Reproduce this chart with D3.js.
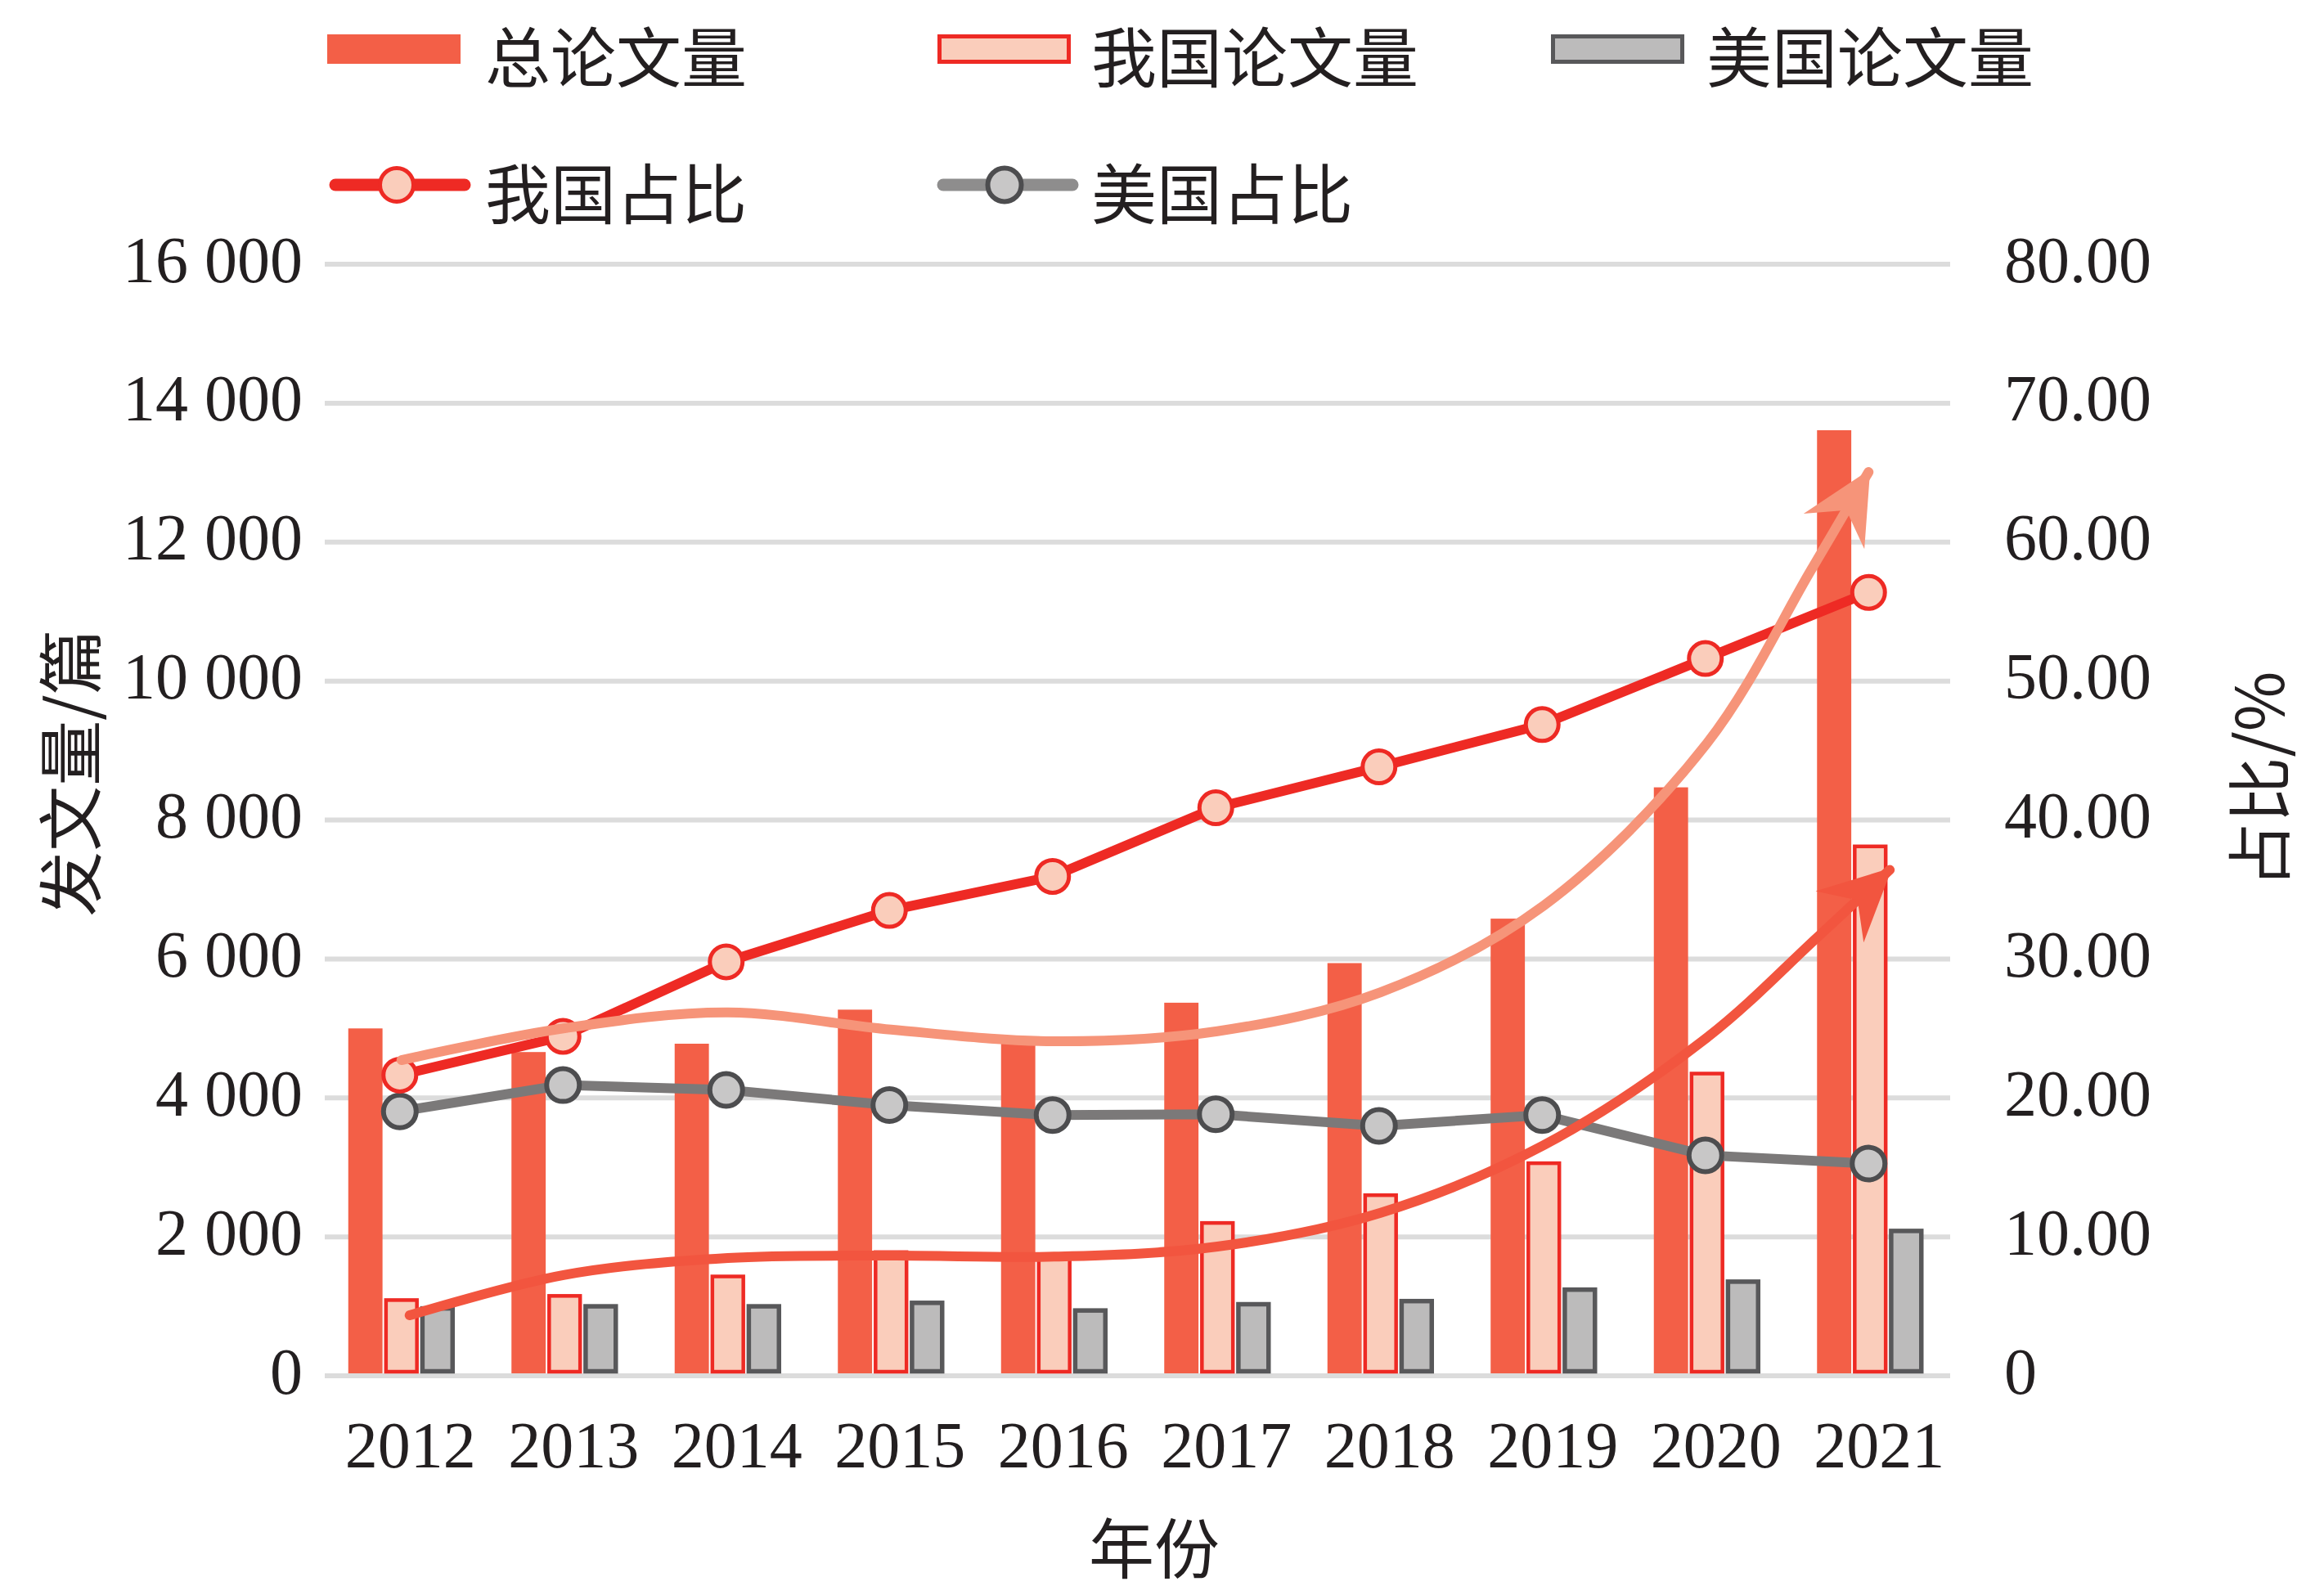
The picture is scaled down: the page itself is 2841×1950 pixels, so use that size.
<!DOCTYPE html>
<html>
<head>
<meta charset="utf-8">
<script src="https://cdn.jsdelivr.net/npm/d3@7"></script>
<style>
  html, body { margin: 0; padding: 0; background: #fff; }
  svg text { fill: #231F20; }
</style>
</head>
<body>
<svg id="chart"></svg>
<script>
var width = 2841
var height = 1950

// data
var years = [2012, 2013, 2014, 2015, 2016, 2017, 2018, 2019, 2020, 2021]
var totalPapers = [5000, 4660, 4780, 5270, 4820, 5370, 5940, 6580, 8470, 13610]
var chinaPapers = [1090, 1150, 1430, 1780, 1730, 2200, 2600, 3060, 4350, 7620]
var usPapers = [970, 1000, 1000, 1050, 940, 1030, 1075, 1240, 1355, 2085]
var chinaShare = [21.64, 24.43, 29.79, 33.49, 35.94, 40.88, 43.82, 46.87, 51.62, 56.38]
var usShare = [19.03, 20.92, 20.58, 19.48, 18.76, 18.82, 17.99, 18.76, 15.87, 15.27]
var leftTicks = [0, 2000, 4000, 6000, 8000, 10000, 12000, 14000, 16000]
var rightTicks = [0, 10, 20, 30, 40, 50, 60, 70, 80]
// hand-drawn trend arrows: [year index, papers]
var trendTotal = [[0, 4544], [1, 5003], [2, 5229], [3, 4982], [4, 4815], [5, 4960], [6, 5521], [7, 6769], [8, 9105], [8.64, 11607], [8.99, 13008]]
var trendChina = [[0.05, 871], [1, 1453], [2, 1695], [3, 1730], [4, 1715], [5, 1860], [6, 2346], [7, 3320], [8, 4869], [8.675, 6310], [9.12, 7282]]

var cnFont = "'Noto Sans CJK SC', sans-serif"
var numFont = "'Liberation Serif', 'Times New Roman', serif"

var svg = d3.select("#chart")
  .attr("width", width)
  .attr("height", height)

var x = d3.scaleBand().domain(years).range([391, 2386])
var center = function(yr) { return x(yr) + x.bandwidth() / 2 }
var sub = d3.scaleBand().domain(["total", "china", "us"]).range([-65, 65]).paddingInner(0.05)
var xIdx = d3.scaleLinear().domain([0, 9]).range([center(2012), center(2021)])
var yLeft = d3.scaleLinear().domain([0, 16000]).range([1682, 323])
var yRight = d3.scaleLinear().domain([0, 80]).range([1682, 323])

// gridlines
svg.append("g").selectAll("line")
  .data(leftTicks)
  .enter().append("line")
  .attr("x1", 397).attr("x2", 2384)
  .attr("y1", function(d) { return yLeft(d) })
  .attr("y2", function(d) { return yLeft(d) })
  .attr("stroke", "#DCDCDC")
  .attr("stroke-width", 6)

// left axis
var leftAxis = d3.axisLeft(yLeft)
  .tickValues(leftTicks)
  .tickSize(0)
  .tickPadding(0)
  .tickFormat(function(d) { return d3.format(",")(d).replace(",", " ") })
var gl = svg.append("g").attr("transform", "translate(370,0)").call(leftAxis)
gl.select(".domain").remove()
gl.selectAll("text")
  .attr("font-family", numFont).attr("font-size", 80)
  .attr("dy", -6).attr("dominant-baseline", "central")
  .style("fill", "#231F20")

// right axis
var rightAxis = d3.axisRight(yRight)
  .tickValues(rightTicks)
  .tickSize(0)
  .tickPadding(0)
  .tickFormat(function(d) { return d === 0 ? "0" : d.toFixed(2) })
var gr = svg.append("g").attr("transform", "translate(2450,0)").call(rightAxis)
gr.select(".domain").remove()
gr.selectAll("text")
  .attr("font-family", numFont).attr("font-size", 80)
  .attr("dy", -6).attr("dominant-baseline", "central")
  .style("fill", "#231F20")

// bottom axis
var bottomAxis = d3.axisBottom(x).tickSize(0).tickPadding(0)
var gb = svg.append("g").attr("transform", "translate(11,0)").call(bottomAxis)
gb.select(".domain").remove()
gb.selectAll("text")
  .attr("font-family", numFont).attr("font-size", 80)
  .attr("y", 1794).attr("dy", null)
  .style("fill", "#231F20")

// axis titles
svg.append("text")
  .attr("x", 1411).attr("y", 1888)
  .attr("text-anchor", "middle").attr("dominant-baseline", "central")
  .attr("font-family", cnFont).attr("font-size", 80)
  .text("年份")
svg.append("text")
  .attr("transform", "translate(81,945) rotate(-90)")
  .attr("text-anchor", "middle").attr("dominant-baseline", "central")
  .attr("font-family", cnFont).attr("font-size", 80)
  .text("发文量/篇")
svg.append("text")
  .attr("transform", "translate(2757,953) rotate(-90)")
  .attr("text-anchor", "middle").attr("dominant-baseline", "central")
  .attr("font-family", cnFont).attr("font-size", 80)
  .text("占比/%")

// bars
var bars = svg.append("g")
bars.selectAll("rect.total")
  .data(totalPapers)
  .enter().append("rect")
  .attr("class", "total")
  .attr("x", function(d, i) { return center(years[i]) + sub("total") })
  .attr("width", sub.bandwidth())
  .attr("y", function(d) { return yLeft(d) })
  .attr("height", function(d) { return yLeft(0) - yLeft(d) - 3 })
  .attr("fill", "#F35F47")

bars.selectAll("rect.china")
  .data(chinaPapers)
  .enter().append("rect")
  .attr("class", "china")
  .attr("x", function(d, i) { return center(years[i]) + sub("china") + 2 })
  .attr("width", sub.bandwidth() - 4)
  .attr("y", function(d) { return yLeft(d) })
  .attr("height", function(d) { return yLeft(0) - yLeft(d) - 5 })
  .attr("fill", "#FACDBB")
  .attr("stroke", "#EE2A24")
  .attr("stroke-width", 4.5)

bars.selectAll("rect.us")
  .data(usPapers)
  .enter().append("rect")
  .attr("class", "us")
  .attr("x", function(d, i) { return center(years[i]) + sub("us") + 2.5 })
  .attr("width", sub.bandwidth() - 5)
  .attr("y", function(d) { return yLeft(d) })
  .attr("height", function(d) { return yLeft(0) - yLeft(d) - 5.5 })
  .attr("fill", "#BCBBBB")
  .attr("stroke", "#58585A")
  .attr("stroke-width", 5.5)

// share lines
var shareLine = d3.line()
  .x(function(d, i) { return center(years[i]) - 2 })
  .y(function(d) { return yRight(d) })

svg.append("path")
  .datum(usShare)
  .attr("d", shareLine)
  .attr("fill", "none")
  .attr("stroke", "#7B7979")
  .attr("stroke-width", 12)
svg.append("g").selectAll("circle")
  .data(usShare)
  .enter().append("circle")
  .attr("cx", function(d, i) { return center(years[i]) - 2 })
  .attr("cy", function(d) { return yRight(d) })
  .attr("r", 20)
  .attr("fill", "#C8C7C7")
  .attr("stroke", "#4D4D4F")
  .attr("stroke-width", 6)

svg.append("path")
  .datum(chinaShare)
  .attr("d", shareLine)
  .attr("fill", "none")
  .attr("stroke", "#EE2A24")
  .attr("stroke-width", 12)
svg.append("g").selectAll("circle")
  .data(chinaShare)
  .enter().append("circle")
  .attr("cx", function(d, i) { return center(years[i]) - 2 })
  .attr("cy", function(d) { return yRight(d) })
  .attr("r", 20)
  .attr("fill", "#FACDBB")
  .attr("stroke", "#EE2A24")
  .attr("stroke-width", 5)

// trend arrows
var defs = svg.append("defs")
var addArrow = function(id, color) {
  defs.append("marker")
    .attr("id", id)
    .attr("markerUnits", "userSpaceOnUse")
    .attr("viewBox", "-95 -50 110 100")
    .attr("markerWidth", 110)
    .attr("markerHeight", 100)
    .attr("refX", 0).attr("refY", 0)
    .attr("orient", "auto")
    .append("path")
    .attr("d", "M4,0 L-84,-43 L-54,0 L-84,43 Z")
    .attr("fill", color)
}
addArrow("arrowTotal", "#F69479")
addArrow("arrowChina", "#F2553F")

var trendLine = d3.line()
  .x(function(d) { return xIdx(d[0]) })
  .y(function(d) { return yLeft(d[1]) })
  .curve(d3.curveCatmullRom.alpha(0.5))

svg.append("path")
  .datum(trendChina)
  .attr("d", trendLine)
  .attr("fill", "none")
  .attr("stroke", "#F2553F")
  .attr("stroke-width", 12)
  .attr("stroke-linecap", "round")
  .attr("marker-end", "url(#arrowChina)")

svg.append("path")
  .datum(trendTotal)
  .attr("d", trendLine)
  .attr("fill", "none")
  .attr("stroke", "#F69479")
  .attr("stroke-width", 12)
  .attr("stroke-linecap", "round")
  .attr("marker-end", "url(#arrowTotal)")

// legend
var legendRects = [
  {name: "总论文量", x: 400, fill: "#F35F47", stroke: null, sw: 0, tx: 593},
  {name: "我国论文量", x: 1146, fill: "#FACDBB", stroke: "#EE2A24", sw: 5, tx: 1334},
  {name: "美国论文量", x: 1896, fill: "#BCBBBB", stroke: "#58585A", sw: 5, tx: 2086}
]
var legendLines = [
  {name: "我国占比", x: 403, line: "#EE2A24", fill: "#FACDBB", stroke: "#EE2A24", sw: 5, tx: 593},
  {name: "美国占比", x: 1146, line: "#8E8D8D", fill: "#C8C7C7", stroke: "#4D4D4F", sw: 6, tx: 1334}
]
var lg = svg.append("g")
legendRects.forEach(function(d) {
  lg.append("rect")
    .attr("x", d.x + d.sw / 2).attr("y", 42 + d.sw / 2)
    .attr("width", 163 - d.sw).attr("height", 36 - d.sw)
    .attr("fill", d.fill)
    .attr("stroke", d.stroke)
    .attr("stroke-width", d.sw)
  lg.append("text")
    .attr("x", d.tx).attr("y", 65)
    .attr("dominant-baseline", "central")
    .attr("font-family", cnFont).attr("font-size", 80)
    .text(d.name)
})
legendLines.forEach(function(d) {
  lg.append("line")
    .attr("x1", d.x + 7).attr("x2", d.x + 165)
    .attr("y1", 226).attr("y2", 226)
    .attr("stroke", d.line)
    .attr("stroke-width", 15)
    .attr("stroke-linecap", "round")
  lg.append("circle")
    .attr("cx", d.x + 82).attr("cy", 226)
    .attr("r", 20.5)
    .attr("fill", d.fill)
    .attr("stroke", d.stroke)
    .attr("stroke-width", d.sw)
  lg.append("text")
    .attr("x", d.tx).attr("y", 232)
    .attr("dominant-baseline", "central")
    .attr("font-family", cnFont).attr("font-size", 80)
    .text(d.name)
})
</script>
</body>
</html>
